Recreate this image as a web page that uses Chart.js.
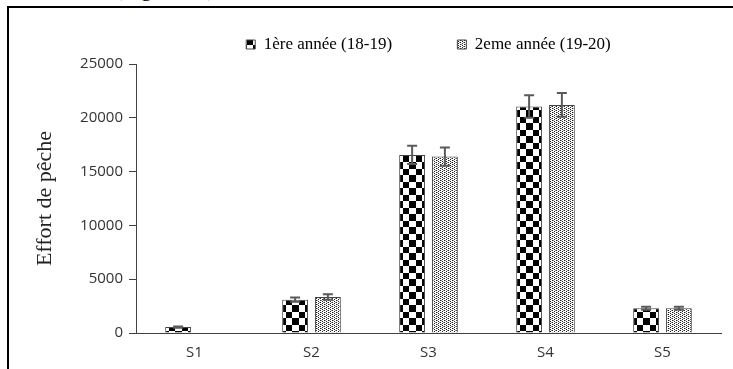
<!DOCTYPE html>
<html><head><meta charset="utf-8">
<script src="https://cdn.jsdelivr.net/npm/chart.js@4"></script>
<style>
html,body{margin:0;padding:0;background:#fff;}
#wrap{position:relative;width:733px;height:369px;overflow:hidden;background:#fff;}
#frame{position:absolute;left:7px;top:6px;width:800px;height:400px;border-left:2px solid #000;border-top:2px solid #000;}
#cap{position:absolute;left:115px;top:-24px;font-family:"Liberation Serif",serif;font-size:22px;color:#000;white-space:nowrap;}
canvas{position:absolute;left:0;top:0;}
</style></head><body>
<div id="wrap"><div id="cap">(Figure 10)</div><div id="frame"></div><canvas id="c" width="733" height="369"></canvas></div>
<script>
const categories = ['S1', 'S2', 'S3', 'S4', 'S5'];
const seriesNames = ['1ère année (18-19)', '2eme année (19-20)'];
const year1 = [550, 3100, 16550, 21050, 2300];
const year2 = [40, 3350, 16400, 21200, 2300];
const err1 = [60, 200, 850, 1050, 130];
const err2 = [0, 250, 850, 1100, 130];
const yTicks = [0, 5000, 10000, 15000, 20000, 25000];
const yTitle = 'Effort de pêche';

function makeChecker() {
  const c = document.createElement('canvas'); c.width = 13; c.height = 13;
  const g = c.getContext('2d');
  g.fillStyle = '#fff'; g.fillRect(0, 0, 13, 13);
  g.fillStyle = '#000';
  g.fillRect(0, 0, 6, 6); g.fillRect(6, 6, 7, 7);
  return document.getElementById('c').getContext('2d').createPattern(c, 'repeat');
}
function makeDots() {
  const c = document.createElement('canvas'); c.width = 4; c.height = 4;
  const g = c.getContext('2d');
  g.fillStyle = '#fff'; g.fillRect(0, 0, 4, 4);
  g.fillStyle = '#222';
  [[0,0],[2,1],[0,2],[2,3]].forEach(p => g.fillRect(p[0], p[1], 1, 1));
  g.fillStyle = '#999';
  [[1,0],[3,2]].forEach(p => g.fillRect(p[0], p[1], 1, 1));
  return document.getElementById('c').getContext('2d').createPattern(c, 'repeat');
}

const errors = [err1, err2];
const errorBars = {
  id: 'errorBars',
  afterDatasetsDraw(chart) {
    const ctx = chart.ctx, y = chart.scales.y;
    ctx.save();
    ctx.strokeStyle = '#5a5a5a'; ctx.lineWidth = 2;
    chart.data.datasets.forEach((ds, i) => {
      const meta = chart.getDatasetMeta(i);
      meta.data.forEach((el, j) => {
        const e = errors[i][j]; if (!e) return;
        const v = ds.data[j];
        const x = el.x, yt = y.getPixelForValue(v + e), yb = y.getPixelForValue(v - e);
        ctx.beginPath();
        ctx.moveTo(x, yt); ctx.lineTo(x, yb);
        ctx.moveTo(x - 5, yt); ctx.lineTo(x + 5, yt);
        ctx.moveTo(x - 5, yb); ctx.lineTo(x + 5, yb);
        ctx.stroke();
      });
    });
    ctx.restore();
  }
};
const legendFix = {
  id: 'legendFix',
  afterInit(chart) {
    const lg = chart.legend; const orig = lg.fit.bind(lg);
    lg.fit = function () { orig(); this.height = 38; };
  },
  afterLayout(chart) {
    chart.legend.left = chart.chartArea.left;
    chart.legend.right = chart.chartArea.right;
  }
};

new Chart(document.getElementById('c'), {
  type: 'bar',
  data: {
    labels: categories,
    datasets: [
      { label: seriesNames[0], data: year1, backgroundColor: makeChecker(), borderColor: '#444', borderWidth: 1, categoryPercentage: 0.56, barPercentage: 0.79 },
      { label: seriesNames[1], data: year2, backgroundColor: makeDots(), borderColor: '#444', borderWidth: 1, categoryPercentage: 0.56, barPercentage: 0.79 }
    ]
  },
  options: {
    responsive: false, animation: false,
    layout: { padding: { left: 10, right: 12, top: 26, bottom: 0 } },
    plugins: {
      tooltip: { enabled: false },
      legend: {
        position: 'top',
        labels: {
          font: { family: 'Liberation Serif', size: 17 }, color: '#000',
          boxWidth: 9, boxHeight: 9, padding: 10,
          generateLabels(chart) {
            const items = Chart.defaults.plugins.legend.labels.generateLabels(chart);
            items[0].text = items[0].text + '\u00a0'.repeat(13);
            return items;
          }
        }
      }
    },
    scales: {
      x: {
        grid: { display: false, drawTicks: false },
        border: { color: '#404040', width: 1 },
        ticks: { font: { family: 'Open Sans', size: 15 }, color: '#333', padding: 11 },
        afterFit(s) { s.height = 36; }
      },
      y: {
        min: 0, max: 25000,
        afterBuildTicks(s) { s.ticks = yTicks.map(v => ({ value: v })); },
        grid: { drawOnChartArea: false, tickLength: 7, color: '#404040' },
        border: { color: '#404040', width: 1 },
        ticks: { font: { family: 'Open Sans', size: 15 }, color: '#333', padding: 6, callback: v => String(v) },
        title: { display: true, text: yTitle, font: { family: 'Liberation Serif', size: 22 }, color: '#222', padding: { top: 22, bottom: 0 } },
        afterFit(s) { s.width = 126; }
      }
    }
  },
  plugins: [errorBars, legendFix]
});
</script>
</body></html>
